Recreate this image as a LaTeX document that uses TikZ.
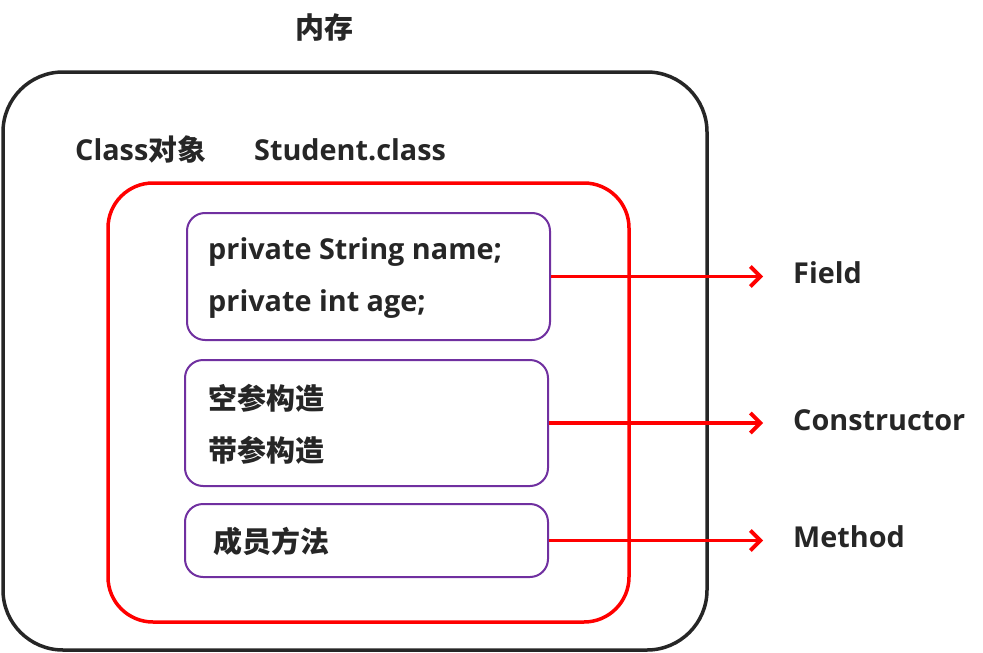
\documentclass[tikz,border=0pt]{standalone}
\usepackage{fontspec}
\setmainfont{Open Sans}
\newfontfamily\cjk{Noto Sans CJK SC}
\usetikzlibrary{arrows.meta}
\definecolor{txt}{HTML}{262626}
\definecolor{purp}{HTML}{7030A0}
\tikzset{
  outerbox/.style={draw=txt, line width=3.5pt, rounded corners=60pt},
  redbox/.style={draw=red, line width=3.5pt, rounded corners=45pt},
  membox/.style={draw=purp, line width=2pt, rounded corners=18pt, inner sep=0pt},
  lat/.style={font=\fontsize{28.8}{32}\selectfont\bfseries, text=txt, inner sep=0pt, anchor=base west},
  cj/.style={font=\fontsize{29}{32}\selectfont\cjk\bfseries, text=txt, inner sep=0pt, anchor=base west},
  arr/.style={draw=red, line width=3.8pt, -{Straight Barb[length=10pt,width=20pt,line width=3.8pt]}},
}
\begin{document}
\begin{tikzpicture}[x=1pt,y=-1pt]
\useasboundingbox (0,0) rectangle (983,653);
\node[cj, anchor=base] (title) at (324,38) {内存};
\draw[outerbox] (3,72) rectangle (707,650);
\node[lat] (cls) at (75,160) {Class{\cjk 对象}};
\node[lat] (stu) at (254,160) {Student.class};
\draw[redbox] (108,183) rectangle (629,622);
\node[membox, minimum width=363pt, minimum height=127pt] (f1) at (368.5,276.5) {};
\node[membox, minimum width=363pt, minimum height=126pt] (f2) at (366.5,423) {};
\node[membox, minimum width=363pt, minimum height=73pt] (f3) at (366.5,540.5) {};
\node[lat] (t1) at (208,259) {private String name;};
\node[lat] (t2) at (208,311) {private int age;};
\node[cj] (t3) at (208,409) {空参构造};
\node[cj] (t4) at (208,461) {带参构造};
\node[cj] (t5) at (213,552) {成员方法};
\node[lat] (l1) at (793,283) {Field};
\node[lat] (l2) at (793,430) {Constructor};
\node[lat] (l3) at (793,547) {Method};
\coordinate (e1) at (763,276.5);
\coordinate (e2) at (763,423);
\coordinate (e3) at (763,540.5);
\draw[arr] (f1.east) -- (e1);
\draw[arr] (f2.east) -- (e2);
\draw[arr] (f3.east) -- (e3);
\end{tikzpicture}
\end{document}
